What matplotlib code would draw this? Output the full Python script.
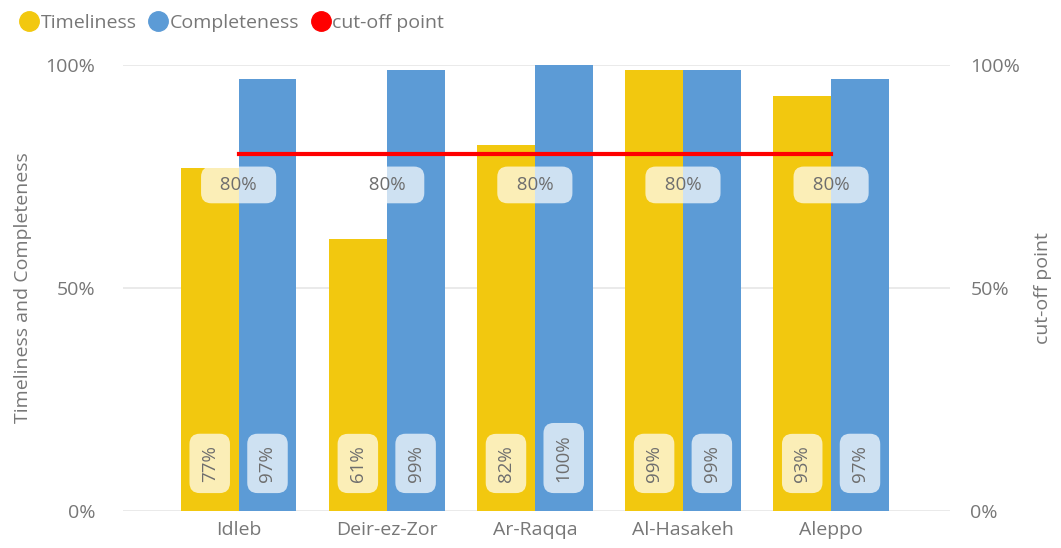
import matplotlib.pyplot as plt
from matplotlib.lines import Line2D
import numpy as np

plt.rcParams['font.family'] = ['Open Sans', 'DejaVu Sans']

# data
regions = ['Idleb', 'Deir-ez-Zor', 'Ar-Raqqa', 'Al-Hasakeh', 'Aleppo']
timeliness = [77, 61, 82, 99, 93]
completeness = [97, 99, 100, 99, 97]
cutoff = [80, 80, 80, 80, 80]

yellow = '#F2C80F'
blue = '#5C9BD6'
red = '#FF0000'
grey = '#777777'

fig = plt.figure(figsize=(10.61, 5.48), dpi=100)
ax = fig.add_axes([0.116, 0.0675, 0.779, 0.8135])

x = np.arange(len(regions))
w = 0.39
ax.bar(x - w / 2, timeliness, width=w, color=yellow, zorder=2)
ax.bar(x + w / 2, completeness, width=w, color=blue, zorder=2)
ax.plot(x, cutoff, color=red, linewidth=3, zorder=3)

# bar labels near the base
for xi, t, c in zip(x, timeliness, completeness):
    for pos, val in ((xi - w / 2, t), (xi + w / 2, c)):
        ax.annotate(f'{val}%', (pos, 0), xytext=(0, 21), textcoords='offset points',
                    rotation=90, ha='center', va='bottom', fontsize=13.5, color='#6E6E6E',
                    zorder=4,
                    bbox=dict(boxstyle='round,pad=0.6,rounding_size=0.55',
                              fc='white', ec='none', alpha=0.7))

# cut-off labels
for xi, v in zip(x, cutoff):
    ax.annotate(f'  {v}%  ', (xi, v), xytext=(0, -22), textcoords='offset points',
                ha='center', va='center', fontsize=13.5, color='#6E6E6E', zorder=4,
                bbox=dict(boxstyle='round,pad=0.5,rounding_size=0.55',
                          fc='white', ec='none', alpha=0.7))

ax.set_xlim(-0.78, 4.80)
ax.set_ylim(0, 100)
ax.set_yticks([0, 50, 100])
ax.set_yticklabels(['0%', '50%', '100%'])
ax.set_xticks(x)
ax.set_xticklabels(regions)
ax.grid(axis='y', color='#E6E6E6', linewidth=1.2, zorder=0)
ax.set_axisbelow(True)
for s in ax.spines.values():
    s.set_visible(False)
ax.tick_params(axis='both', length=0, labelsize=14, labelcolor=grey)
ax.tick_params(axis='y', pad=20)
ax.tick_params(axis='x', pad=7)
ax.set_ylabel('Timeliness and Completeness', fontsize=14, color=grey, labelpad=10)

ax2 = ax.twinx()
ax2.set_ylim(0, 100)
ax2.set_yticks([0, 50, 100])
ax2.set_yticklabels(['0%', '50%', '100%'])
for s in ax2.spines.values():
    s.set_visible(False)
ax2.tick_params(axis='y', length=0, labelsize=14, labelcolor=grey, pad=15)
ax2.set_ylabel('cut-off point', fontsize=14, color=grey, labelpad=10)

handles = [Line2D([], [], marker='o', linestyle='none', markersize=14, color=yellow),
           Line2D([], [], marker='o', linestyle='none', markersize=14, color=blue),
           Line2D([], [], marker='o', linestyle='none', markersize=14, color=red)]
fig.legend(handles, ['Timeliness', 'Completeness', 'cut-off point'],
           loc='upper left', bbox_to_anchor=(0.0, 1.007), ncol=3, frameon=False,
           fontsize=14, labelcolor=grey, handletextpad=0.0, columnspacing=0.5,
           handlelength=1.2)

fig.savefig('out.png', dpi=100)
